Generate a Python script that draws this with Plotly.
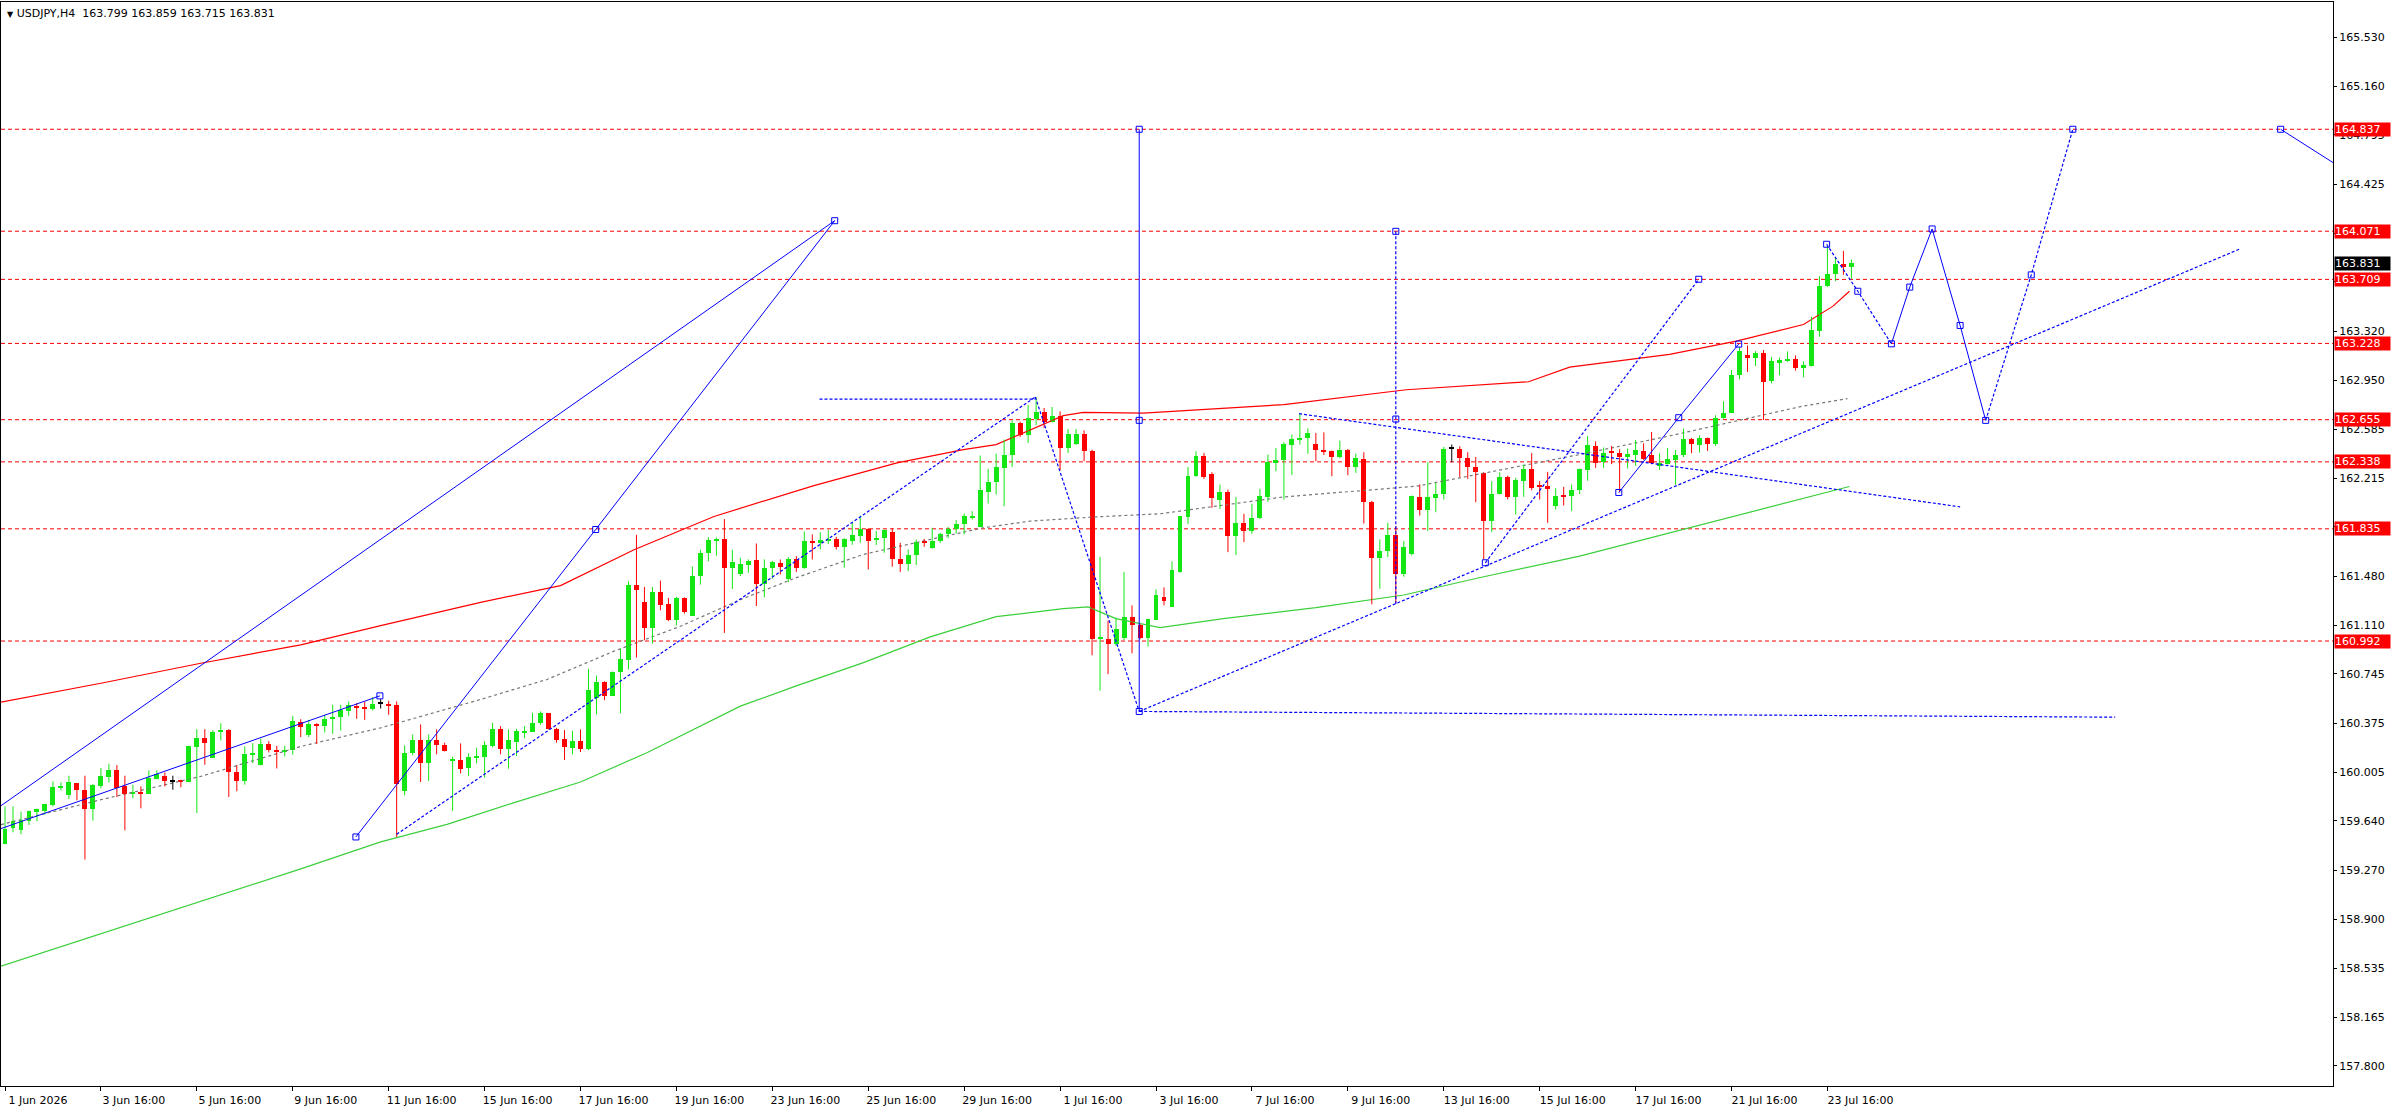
import plotly.graph_objects as go

symbol = "USDJPY,H4"

tick_labels = [
    "1 Jun 2026", "3 Jun 16:00", "5 Jun 16:00", "9 Jun 16:00", "11 Jun 16:00",
    "15 Jun 16:00", "17 Jun 16:00", "19 Jun 16:00", "23 Jun 16:00", "25 Jun 16:00",
    "29 Jun 16:00", "1 Jul 16:00", "3 Jul 16:00", "7 Jul 16:00", "9 Jul 16:00",
    "13 Jul 16:00", "15 Jul 16:00", "17 Jul 16:00", "21 Jul 16:00", "23 Jul 16:00",
]
bars_per_label = 12

# H4 candles, oldest first
bar_open = [
    159.465, 159.588, 159.575, 159.638, 159.710, 159.718, 159.763, 159.885, 159.833, 159.925,
    159.875, 159.733, 159.900, 159.968, 160.025, 159.900, 159.848, 159.860, 159.845, 159.953,
    159.980, 159.938, 159.945, 159.930, 160.195, 160.265, 160.113, 160.305, 160.325, 160.010,
    159.938, 160.140, 160.058, 160.220, 160.175, 160.155, 160.170, 160.385, 160.288, 160.370,
    160.350, 160.405, 160.418, 160.465, 160.505, 160.498, 160.483, 160.525, 160.520, 160.513,
    159.866, 160.148, 160.248, 160.073, 160.246, 160.213, 160.091, 160.096, 160.038, 160.118,
    160.123, 160.203, 160.328, 160.183, 160.233, 160.308, 160.308, 160.373, 160.448, 160.333,
    160.253, 160.188, 160.238, 160.178, 160.561, 160.688, 160.578, 160.758, 160.853, 161.416,
    161.288, 161.088, 161.363, 161.273, 161.148, 161.318, 161.183, 161.478, 161.653, 161.748,
    161.760, 161.538, 161.493, 161.563, 161.598, 161.420, 161.540, 161.580, 161.455, 161.610,
    161.540, 161.743, 161.735, 161.740, 161.755, 161.698, 161.740, 161.780, 161.835, 161.750,
    161.765, 161.813, 161.610, 161.568, 161.638, 161.738, 161.688, 161.743, 161.793, 161.830,
    161.875, 161.923, 161.848, 162.115, 162.185, 162.295, 162.388, 162.630, 162.543, 162.663,
    162.715, 162.640, 162.685, 162.440, 162.475, 162.550, 162.423, 161.008, 161.010, 160.968,
    161.018, 161.175, 161.113, 161.015, 161.150, 161.325, 161.250, 161.513, 161.923, 162.230,
    162.385, 162.250, 162.055, 162.115, 161.780, 161.880, 161.818, 161.915, 162.073, 162.330,
    162.350, 162.468, 162.500, 162.515, 162.475, 162.430, 162.418, 162.373, 162.430, 162.300,
    162.363, 162.040, 161.615, 161.665, 161.785, 161.493, 161.643, 162.075, 161.975, 162.065,
    162.093, 162.435, 162.435, 162.368, 162.300, 162.255, 161.893, 162.093, 162.225, 162.075,
    162.193, 162.288, 162.155, 162.155, 162.005, 162.085, 162.080, 162.128, 162.278, 162.458,
    162.338, 162.413, 162.408, 162.373, 162.388, 162.418, 162.388, 162.313, 162.323, 162.353,
    162.393, 162.513, 162.463, 162.518, 162.470, 162.668, 162.708, 162.988, 163.138, 163.118,
    163.158, 162.943, 163.088, 163.093, 163.108, 163.043, 163.058, 163.320, 163.658, 163.748,
    163.828, 163.799,
]
bar_high = [
    159.750, 159.750, 159.710, 159.718, 159.733, 159.770, 159.938, 159.930, 159.980, 159.925,
    159.980, 159.918, 160.038, 160.070, 160.060, 159.980, 159.913, 159.900, 160.020, 160.020,
    160.005, 159.980, 159.950, 160.205, 160.330, 160.330, 160.323, 160.375, 160.330, 160.060,
    160.200, 160.225, 160.258, 160.240, 160.205, 160.205, 160.430, 160.405, 160.400, 160.375,
    160.438, 160.513, 160.513, 160.538, 160.525, 160.538, 160.570, 160.555, 160.543, 160.538,
    160.208, 160.290, 160.366, 160.290, 160.328, 160.228, 160.123, 160.223, 160.148, 160.191,
    160.238, 160.378, 160.353, 160.328, 160.333, 160.353, 160.453, 160.463, 160.448, 160.340,
    160.323, 160.318, 160.328, 160.783, 160.733, 160.690, 160.763, 160.933, 161.441, 161.790,
    161.398, 161.398, 161.446, 161.316, 161.323, 161.320, 161.553, 161.678, 161.773, 161.770,
    161.908, 161.678, 161.618, 161.605, 161.725, 161.605, 161.593, 161.605, 161.623, 161.630,
    161.815, 161.793, 161.810, 161.825, 161.775, 161.765, 161.880, 161.935, 161.840, 161.818,
    161.830, 161.838, 161.730, 161.680, 161.755, 161.760, 161.843, 161.805, 161.850, 161.900,
    161.950, 161.968, 162.385, 162.285, 162.400, 162.505, 162.650, 162.640, 162.765, 162.825,
    162.743, 162.750, 162.718, 162.585, 162.585, 162.575, 162.430, 161.625, 161.145, 161.168,
    161.510, 161.260, 161.120, 161.160, 161.380, 161.395, 161.590, 161.930, 162.300, 162.418,
    162.405, 162.260, 162.168, 162.130, 162.073, 161.948, 162.023, 162.135, 162.393, 162.443,
    162.485, 162.543, 162.700, 162.590, 162.555, 162.560, 162.423, 162.498, 162.435, 162.400,
    162.410, 162.045, 161.755, 161.880, 161.855, 161.743, 162.085, 162.168, 162.335, 162.180,
    162.450, 162.468, 162.455, 162.410, 162.375, 162.260, 162.193, 162.260, 162.235, 162.218,
    162.318, 162.405, 162.193, 162.263, 162.140, 162.150, 162.168, 162.288, 162.533, 162.493,
    162.446, 162.458, 162.433, 162.438, 162.503, 162.478, 162.563, 162.403, 162.443, 162.428,
    162.588, 162.518, 162.538, 162.520, 162.688, 162.793, 163.028, 163.203, 163.213, 163.170,
    163.178, 163.126, 163.121, 163.168, 163.138, 163.093, 163.428, 163.733, 163.963, 163.878,
    163.923, 163.859,
]
bar_low = [
    159.465, 159.555, 159.540, 159.610, 159.638, 159.690, 159.750, 159.870, 159.805, 159.795,
    159.350, 159.643, 159.885, 159.930, 159.820, 159.570, 159.810, 159.735, 159.845, 159.953,
    159.900, 159.875, 159.893, 159.930, 159.700, 160.063, 160.113, 160.245, 159.820, 159.863,
    159.913, 160.075, 160.058, 160.155, 160.035, 160.125, 160.138, 160.270, 160.270, 160.220,
    160.305, 160.295, 160.320, 160.430, 160.408, 160.400, 160.470, 160.485, 160.438, 159.520,
    159.833, 160.133, 159.933, 159.941, 160.141, 160.163, 159.716, 159.998, 159.978, 160.073,
    159.966, 160.193, 160.141, 160.033, 160.128, 160.263, 160.308, 160.363, 160.328, 160.228,
    160.098, 160.141, 160.158, 160.173, 160.441, 160.548, 160.578, 160.448, 160.778, 160.868,
    160.998, 160.973, 161.223, 161.141, 161.108, 161.198, 161.183, 161.416, 161.591, 161.633,
    161.053, 161.383, 161.480, 161.505, 161.255, 161.320, 161.460, 161.493, 161.435, 161.510,
    161.535, 161.605, 161.680, 161.720, 161.680, 161.543, 161.715, 161.730, 161.530, 161.713,
    161.655, 161.550, 161.510, 161.518, 161.563, 161.700, 161.685, 161.730, 161.765, 161.800,
    161.793, 161.905, 161.848, 162.025, 162.093, 162.005, 162.300, 162.525, 162.480, 162.613,
    162.593, 162.635, 162.275, 162.405, 162.465, 162.343, 160.885, 160.618, 160.743, 160.955,
    161.000, 160.900, 161.005, 160.950, 161.150, 161.260, 161.250, 161.505, 161.870, 162.225,
    162.210, 161.993, 161.985, 161.660, 161.638, 161.735, 161.798, 161.910, 162.038, 162.268,
    162.055, 162.240, 162.468, 162.398, 162.343, 162.390, 162.230, 162.365, 162.238, 162.255,
    161.875, 161.268, 161.385, 161.623, 161.280, 161.475, 161.635, 161.935, 161.818, 161.960,
    162.055, 162.335, 162.225, 162.210, 162.035, 161.605, 161.810, 162.093, 162.055, 161.943,
    162.075, 162.125, 162.055, 161.880, 161.980, 162.010, 161.968, 162.096, 162.196, 162.293,
    162.293, 162.321, 162.108, 162.288, 162.308, 162.353, 162.320, 162.278, 162.318, 162.166,
    162.373, 162.403, 162.408, 162.420, 162.458, 162.663, 162.705, 162.958, 163.013, 163.058,
    162.653, 162.928, 162.988, 163.090, 163.023, 162.973, 163.055, 163.278, 163.653, 163.696,
    163.743, 163.715,
]
bar_close = [
    159.580, 159.638, 159.650, 159.718, 159.733, 159.770, 159.893, 159.900, 159.930, 159.870,
    159.733, 159.908, 159.975, 160.025, 159.890, 159.845, 159.860, 159.845, 159.960, 159.993,
    159.943, 159.938, 159.930, 160.200, 160.265, 160.223, 160.310, 160.325, 160.005, 159.938,
    160.145, 160.150, 160.220, 160.170, 160.155, 160.173, 160.388, 160.345, 160.370, 160.350,
    160.408, 160.423, 160.475, 160.510, 160.495, 160.483, 160.520, 160.525, 160.508, 159.920,
    160.153, 160.248, 160.073, 160.248, 160.208, 160.163, 160.103, 160.028, 160.123, 160.128,
    160.208, 160.328, 160.183, 160.246, 160.313, 160.318, 160.378, 160.448, 160.333, 160.248,
    160.193, 160.238, 160.178, 160.621, 160.688, 160.578, 160.763, 160.858, 161.416, 161.373,
    161.088, 161.363, 161.266, 161.148, 161.318, 161.208, 161.483, 161.653, 161.753, 161.760,
    161.538, 161.583, 161.568, 161.593, 161.420, 161.543, 161.585, 161.550, 161.610, 161.540,
    161.740, 161.730, 161.748, 161.755, 161.698, 161.755, 161.785, 161.830, 161.740, 161.768,
    161.823, 161.610, 161.568, 161.638, 161.738, 161.730, 161.745, 161.798, 161.835, 161.875,
    161.930, 161.935, 162.123, 162.190, 162.300, 162.393, 162.630, 162.543, 162.668, 162.715,
    162.635, 162.685, 162.440, 162.550, 162.550, 162.418, 161.010, 161.018, 160.968, 161.080,
    161.175, 161.110, 161.015, 161.155, 161.335, 161.295, 161.523, 161.928, 162.235, 162.385,
    162.225, 162.065, 162.115, 161.780, 161.880, 161.818, 161.920, 162.085, 162.340, 162.355,
    162.475, 162.510, 162.520, 162.555, 162.425, 162.415, 162.373, 162.430, 162.300, 162.368,
    162.035, 161.615, 161.670, 161.785, 161.498, 161.700, 162.085, 161.975, 162.073, 162.100,
    162.435, 162.435, 162.365, 162.300, 162.260, 161.893, 162.100, 162.225, 162.075, 162.200,
    162.288, 162.143, 162.150, 162.138, 162.085, 162.080, 162.130, 162.283, 162.463, 162.333,
    162.408, 162.408, 162.373, 162.398, 162.428, 162.358, 162.328, 162.328, 162.363, 162.393,
    162.513, 162.470, 162.518, 162.470, 162.670, 162.708, 162.993, 163.168, 163.118, 163.158,
    162.938, 163.093, 163.100, 163.108, 163.043, 163.063, 163.326, 163.663, 163.753, 163.828,
    163.803, 163.831,
]

# moving averages (bar index, price)
ma_red_x = [-0.5, 12, 24.5, 37, 47, 59.5, 69.5, 78.7, 88.7, 101.2, 111.6, 119.9, 124, 128.25,
            132.4, 134.9, 142.4, 160, 175.3, 190.6, 195.75, 208.25, 216.6, 225, 226.6, 228.7, 230.75]
ma_red_y = [160.533, 160.675, 160.825, 160.963, 161.108, 161.283, 161.408, 161.678, 161.928, 162.16,
            162.33, 162.43, 162.468, 162.58, 162.685, 162.71, 162.705, 162.768, 162.88, 162.94,
            163.05, 163.145, 163.245, 163.37, 163.428, 163.508, 163.62]
ma_green_x = [-0.5, 37, 47, 55.3, 63.7, 72, 80.3, 92, 99, 107.4, 115.75, 124, 132.4, 135.5, 139,
              144.5, 152.4, 164, 175, 185, 197, 225, 230.75]
ma_green_y = [158.549, 159.28, 159.483, 159.615, 159.778, 159.933, 160.153, 160.503, 160.655, 160.83,
              161.023, 161.175, 161.235, 161.248, 161.16, 161.093, 161.16, 161.243, 161.338, 161.475,
              161.63, 162.063, 162.153]
ma_gray_x = [-0.5, 12, 24.5, 37, 47, 59.5, 67.8, 76.2, 84.5, 92, 99, 107.4, 115.75, 122.4, 128.25,
             136.6, 144.5, 160, 176.6, 189, 197, 208.25, 216.6, 225, 230.5]
ma_gray_y = [159.613, 159.8, 159.975, 160.2, 160.34, 160.553, 160.703, 160.916, 161.103, 161.303,
             161.468, 161.643, 161.755, 161.843, 161.893, 161.925, 161.948, 162.075, 162.155, 162.3,
             162.393, 162.533, 162.645, 162.758, 162.813]

# horizontal levels
level_prices = [164.837, 164.071, 163.709, 163.228, 162.655, 162.338, 161.835, 160.992]
price_ticks = [165.530, 165.160, 164.795, 164.425, 164.055, 163.690, 163.320, 162.950, 162.585,
               162.215, 161.850, 161.480, 161.110, 160.745, 160.375, 160.005, 159.640, 159.270,
               158.900, 158.535, 158.165, 157.800]

# drawn objects: solid blue
trend_a_x, trend_a_y = [-0.5, 103.8], [159.755, 164.15]
trend_b_x, trend_b_y = [43.9, 73.9, 103.8], [159.52, 161.83, 164.15]
trend_c_x, trend_c_y = [-0.5, 46.9], [159.583, 160.58]
vline_g_x, vline_g_y = [141.9, 141.9, 141.9], [160.463, 162.65, 164.837]
trend_m_x, trend_m_y = [201.9, 209.4, 216.9], [162.108, 162.67, 163.223]
path_mid_x, path_mid_y = [236.0, 238.3, 241.1, 244.6, 247.8], [163.225, 163.651, 164.088, 163.363, 162.65]
trend_q_x, trend_q_y = [284.7, 291.5], [164.837, 164.577]

# drawn objects: dotted blue
trend_d_x, trend_d_y = [49, 128.9], [159.54, 162.825]
level_e_x, level_e_y = [101.9, 128.9], [162.81, 162.81]
drop_f_x, drop_f_y = [128.9, 141.9], [162.825, 160.463]
base_h_x, base_h_y = [141.9, 264], [160.463, 160.42]
trend_i_x, trend_i_y = [141.9, 279.7], [160.463, 163.94]
trend_j_x, trend_j_y = [161.9, 244.6], [162.7, 162.0]
vline_k_x, vline_k_y = [174, 174], [164.07, 161.27]
trend_l_x, trend_l_y = [185.2, 211.9], [161.58, 163.71]
path_start_x, path_start_y = [227.9, 231.8, 236.0], [163.973, 163.62, 163.225]
path_end_x, path_end_y = [247.8, 253.5, 258.7], [162.65, 163.743, 164.837]

# anchor squares of the objects
anchor_x = [103.8, 43.9, 73.9, 46.9, 141.9, 141.9, 141.9, 201.9, 209.4, 216.9,
            227.9, 231.8, 236.0, 238.3, 241.1, 244.6, 247.8, 253.5, 258.7, 284.7,
            174, 174, 185.2, 211.9]
anchor_y = [164.15, 159.52, 161.83, 160.58, 160.463, 162.65, 164.837, 162.108, 162.67, 163.223,
            163.973, 163.62, 163.225, 163.651, 164.088, 163.363, 162.65, 163.743, 164.837, 164.837,
            162.66, 164.07, 161.58, 163.71]

BULL = "#14e614"
BEAR = "#ff0000"
DOJI = "#000000"
BLUE = "#0000ff"
FONT = "DejaVu Sans"

fig = go.Figure()

for lvl in level_prices:
    fig.add_hline(y=lvl, line=dict(color="#ff0000", width=1, dash="4px,3px"), layer="below")

fig.add_trace(go.Scatter(x=ma_green_x, y=ma_green_y, mode="lines",
                         line=dict(color="#3ccf3c", width=1.2)))
fig.add_trace(go.Scatter(x=ma_gray_x, y=ma_gray_y, mode="lines",
                         line=dict(color="#777777", width=1.2, dash="3px,3px")))
fig.add_trace(go.Scatter(x=ma_red_x, y=ma_red_y, mode="lines",
                         line=dict(color="#ff0000", width=1.2)))

# candles: wicks then bodies
idx = list(range(len(bar_open)))
colors = [BULL if c > o else (BEAR if c < o else DOJI) for o, c in zip(bar_open, bar_close)]
for col in (BULL, BEAR, DOJI):
    wx, wy = [], []
    for i in idx:
        if colors[i] == col:
            wx += [i, i, None]
            wy += [bar_low[i], bar_high[i], None]
    fig.add_trace(go.Scatter(x=wx, y=wy, mode="lines", line=dict(color=col, width=1)))

body_base = [min(o, c) for o, c in zip(bar_open, bar_close)]
body_size = [max(abs(c - o), 0.008) for o, c in zip(bar_open, bar_close)]
fig.add_trace(go.Bar(x=idx, y=body_size, base=body_base, width=0.62,
                     marker=dict(color=colors, line=dict(width=0))))

solid = [(trend_a_x, trend_a_y), (trend_b_x, trend_b_y), (trend_c_x, trend_c_y),
         (vline_g_x, vline_g_y), (trend_m_x, trend_m_y), (path_mid_x, path_mid_y),
         (trend_q_x, trend_q_y)]
for xs, ys in solid:
    fig.add_trace(go.Scatter(x=xs, y=ys, mode="lines", line=dict(color=BLUE, width=1)))

dotted = [(trend_d_x, trend_d_y), (level_e_x, level_e_y), (drop_f_x, drop_f_y),
          (base_h_x, base_h_y), (trend_i_x, trend_i_y), (trend_j_x, trend_j_y),
          (vline_k_x, vline_k_y), (trend_l_x, trend_l_y), (path_start_x, path_start_y),
          (path_end_x, path_end_y)]
for xs, ys in dotted:
    fig.add_trace(go.Scatter(x=xs, y=ys, mode="lines",
                             line=dict(color=BLUE, width=1.2, dash="3px,2px")))

fig.add_trace(go.Scatter(x=anchor_x, y=anchor_y, mode="markers",
                         marker=dict(symbol="square-open", size=6, color=BLUE,
                                     line=dict(color=BLUE, width=1))))

# price labels on the scale
for lvl in level_prices:
    fig.add_annotation(x=1, xref="paper", y=lvl, yref="y", xanchor="left", yanchor="middle",
                       text=f"{lvl:.3f}", showarrow=False, bgcolor="#ff0000",
                       font=dict(family=FONT, size=11, color="white"),
                       width=55, height=13, align="left", borderpad=0, xshift=1)
fig.add_annotation(x=1, xref="paper", y=bar_close[-1], yref="y", xanchor="left", yanchor="middle",
                   text=f"{bar_close[-1]:.3f}", showarrow=False, bgcolor="#000000",
                   font=dict(family=FONT, size=11, color="white"),
                   width=55, height=13, align="left", borderpad=0, xshift=1)

header = (f"<span style='font-size:8px'>▼</span> {symbol}\u00a0\u00a0"
          f"{bar_open[-1]:.3f} {bar_high[-1]:.3f} {bar_low[-1]:.3f} {bar_close[-1]:.3f}")
fig.add_annotation(x=0, xref="paper", y=1, yref="paper", xanchor="left", yanchor="top",
                   text=header, showarrow=False, xshift=4, yshift=-3,
                   font=dict(family=FONT, size=11, color="black"))

fig.update_layout(
    width=2396,
    height=1110,
    margin=dict(l=1, r=63, t=2, b=24),
    paper_bgcolor="white",
    plot_bgcolor="white",
    showlegend=False,
    bargap=0,
    font=dict(family=FONT, size=11, color="black"),
)
fig.update_xaxes(
    range=[-0.5, 291.25],
    tickvals=[k * bars_per_label for k in range(len(tick_labels))],
    ticktext=tick_labels,
    ticks="outside", ticklen=4, tickcolor="black",
    ticklabelshift=33,
    showgrid=False, zeroline=False,
    showline=True, linecolor="black", linewidth=1, mirror=True,
    tickfont=dict(family=FONT, size=11, color="black"),
)
fig.update_yaxes(
    side="right",
    range=[157.649, 165.793],
    tickvals=price_ticks,
    ticktext=[f"{p:.3f}" for p in price_ticks],
    ticks="outside", ticklen=3, tickcolor="black",
    showgrid=False, zeroline=False,
    showline=True, linecolor="black", linewidth=1, mirror=True,
    tickfont=dict(family=FONT, size=11, color="black"),
)

fig.write_html(
    "out.html",
    config={"displayModeBar": False},
    post_script="document.body.style.margin='0';document.body.style.overflow='hidden';",
)
